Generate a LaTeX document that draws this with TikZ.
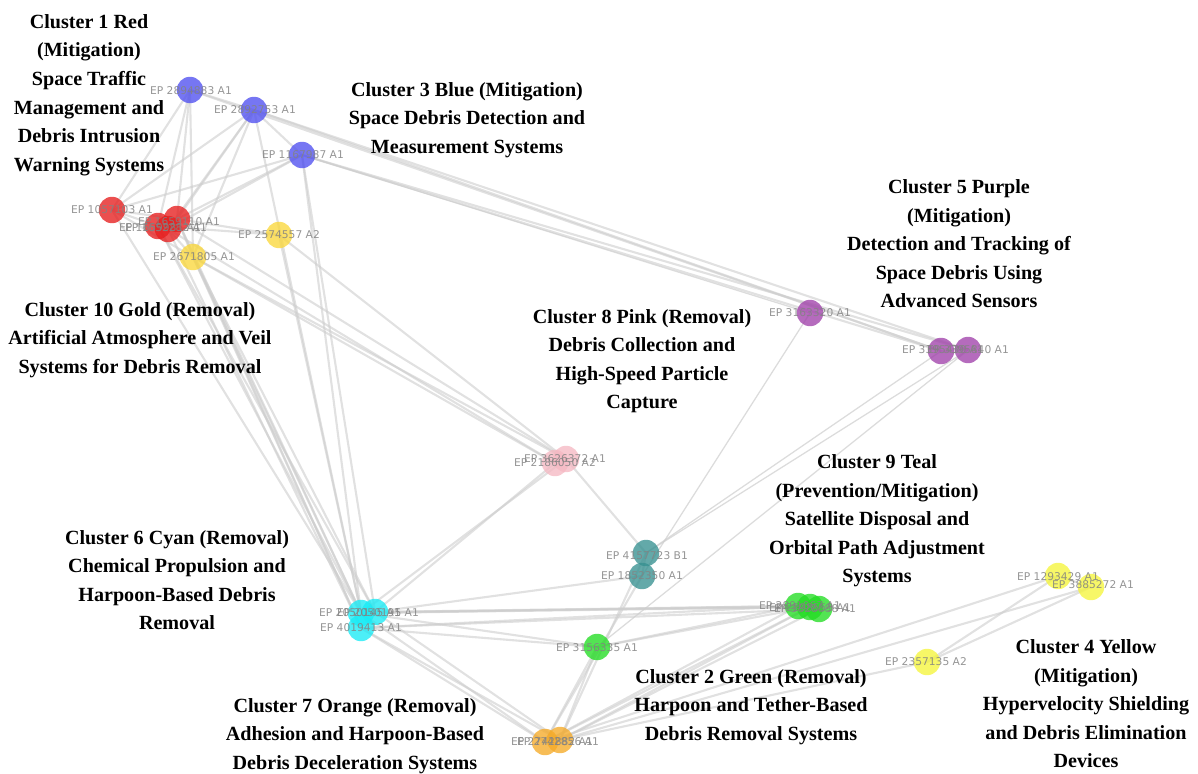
\documentclass[tikz,border=0pt]{standalone}
\usepackage{fontspec}
\setmainfont{Liberation Serif}
\newfontfamily\labfont{DejaVu Sans}
\usetikzlibrary{backgrounds}
\definecolor{edgeC}{RGB}{205,205,205}
\definecolor{labC}{RGB}{130,130,130}
\definecolor{blueN}{RGB}{80,80,240}
\definecolor{redN}{RGB}{230,30,30}
\definecolor{goldN}{RGB}{250,215,60}
\definecolor{purpleN}{RGB}{160,65,170}
\definecolor{pinkN}{RGB}{245,185,195}
\definecolor{tealN}{RGB}{55,145,145}
\definecolor{cyanN}{RGB}{25,235,245}
\definecolor{greenN}{RGB}{35,220,35}
\definecolor{yellowN}{RGB}{245,245,60}
\definecolor{orangeN}{RGB}{245,170,40}
\begin{document}
\begin{tikzpicture}[x=0.025cm,y=-0.025cm,
  edge/.style={draw=edgeC, line width=1.5pt, opacity=0.6},
  thinedge/.style={draw=edgeC, line width=0.9pt, opacity=0.7},
  pnode/.style={circle, minimum size=0.66cm, inner sep=0pt, fill opacity=0.78, draw=none},
  lab/.style={font=\labfont\fontsize{7.6}{8}\selectfont, text=labC, text opacity=0.85, inner sep=0pt},
  ctitle/.style={font=\bfseries\fontsize{14.3}{20.3}\selectfont, align=center, inner sep=0pt}]
\useasboundingbox (0,0) rectangle (1198,774);

% ---- patent nodes ----
\node[pnode, fill=blueN] (b1) at (190,90) {};
\node[pnode, fill=blueN] (b2) at (254,110) {};
\node[pnode, fill=blueN] (b3) at (302,155) {};
\node[pnode, fill=redN] (r1) at (112,210) {};
\node[pnode, fill=redN] (r2) at (177,219) {};
\node[pnode, fill=redN] (r3) at (158,226) {};
\node[pnode, fill=redN] (r4) at (168,229) {};
\node[pnode, fill=goldN] (y1) at (193,257) {};
\node[pnode, fill=goldN] (y2) at (279,235) {};
\node[pnode, fill=purpleN] (p1) at (810,313) {};
\node[pnode, fill=purpleN] (p2) at (941,351) {};
\node[pnode, fill=purpleN] (p3) at (968,350) {};
\node[pnode, fill=pinkN] (k1) at (566,459) {};
\node[pnode, fill=pinkN] (k2) at (555,463) {};
\node[pnode, fill=tealN] (t1) at (646,553) {};
\node[pnode, fill=tealN] (t2) at (642,576) {};
\node[pnode, fill=cyanN] (c1) at (361,613) {};
\node[pnode, fill=cyanN] (c2) at (375,612) {};
\node[pnode, fill=cyanN] (c3) at (361,628) {};
\node[pnode, fill=greenN] (g1) at (597,647) {};
\node[pnode, fill=greenN] (g2) at (798,606) {};
\node[pnode, fill=greenN] (g3) at (810,607) {};
\node[pnode, fill=greenN] (g4) at (819,609) {};
\node[pnode, fill=yellowN] (yy1) at (1058,576) {};
\node[pnode, fill=yellowN] (yy2) at (1091,587) {};
\node[pnode, fill=yellowN] (yy3) at (927,662) {};
\node[pnode, fill=orangeN] (o1) at (545,742) {};
\node[pnode, fill=orangeN] (o2) at (560,740) {};

% ---- connectors ----
\begin{pgfonlayer}{background}
\foreach \a/\b in {b1/r1,b1/r2,b1/r3,b1/y1,b1/b2,b2/r1,b2/r2,b2/r4,b2/y1,b2/b3,
  b3/r1,b3/r2,b3/r4,r1/r2,r1/r3,r2/y2,r3/y2,r2/y1,r1/y1,r4/y1,
  b2/p2,b2/p3,b1/p2,b3/p2,b3/p3,
  r1/c1,r2/c1,r3/c2,r4/c3,r3/c1,y1/c1,y1/c2,y1/c3,r2/c3,b2/c1,b3/c2,b3/c1,y2/c1,
  y1/k1,y1/k2,r2/k1,r4/k2,y2/k1,
  k1/c1,k2/c2,k1/t1,
  c1/g2,c2/g3,c3/g4,c1/g3,c3/g2,c2/g2,c2/t2,c3/g1,c1/g1,
  c1/o1,c2/o2,c3/o1,c3/o2,
  t1/t2,t2/o1,t1/o2,g1/o1,g1/o2,g1/g2,g1/g3,
  o1/g2,o2/g3,o2/g4,o1/g3,
  o1/yy1,o2/yy2,o2/yy3,yy1/yy2,yy3/yy1,yy3/yy2,p2/p3}
  {\draw[edge] (\a.center) -- (\b.center);}
\foreach \a/\b in {b3/p1,p1/t2,p2/t1,p3/t1,p3/g1}
  {\draw[thinedge] (\a.center) -- (\b.center);}
\end{pgfonlayer}

% ---- patent labels ----
\node[lab] (lb1) at (191,91) {EP 2894883 A1};
\node[lab] (lb2) at (255,110) {EP 2892753 A1};
\node[lab] (lb3) at (303,155) {EP 1167987 A1};
\node[lab] (lr1) at (112,210) {EP 1057103 A1};
\node[lab] (lr2) at (179,222) {EP 1659110 A1};
\node[lab] (lr3) at (160,228) {EP 1659981 A1};
\node[lab] (lr4) at (166,228) {EP 1652282 A1};
\node[lab] (ly1) at (194,257) {EP 2671805 A1};
\node[lab] (ly2) at (279,235) {EP 2574557 A2};
\node[lab] (lp1) at (810,313) {EP 3163320 A1};
\node[lab] (lp2) at (943,350) {EP 3395430 A1};
\node[lab] (lp3) at (968,350) {EP 3395840 A1};
\node[lab] (lk1) at (565,459) {EP 3626372 A1};
\node[lab] (lk2) at (555,463) {EP 2186050 A2};
\node[lab] (lt1) at (647,556) {EP 4157723 B1};
\node[lab] (lt2) at (642,576) {EP 1852350 A1};
\node[lab] (lc1) at (360,613) {EP 2050145 A1};
\node[lab] (lc2) at (378,613) {EP 2050195 A1};
\node[lab] (lc3) at (361,628) {EP 4019413 A1};
\node[lab] (lg1) at (597,648) {EP 3156335 A1};
\node[lab] (lg2) at (800,606) {EP 2891067 A1};
\node[lab] (lg3) at (810,608) {EP 2298553 A1};
\node[lab] (lg4) at (815,609) {EP 3828888 A1};
\node[lab] (lyy1) at (1058,577) {EP 1293429 A1};
\node[lab] (lyy2) at (1093,585) {EP 3885272 A1};
\node[lab] (lyy3) at (926,662) {EP 2357135 A2};
\node[lab] (lo1) at (552,742) {EP 2742882 A1};
\node[lab] (lo2) at (558,742) {EP 2742856 A1};

% ---- cluster titles ----
\node[ctitle] (tc1) at (89,95) {Cluster 1 Red\\(Mitigation)\\Space Traffic\\Management and\\Debris Intrusion\\Warning Systems};
\node[ctitle] (tc3) at (467,120) {Cluster 3 Blue (Mitigation)\\Space Debris Detection and\\Measurement Systems};
\node[ctitle] (tc5) at (959,244) {Cluster 5 Purple\\(Mitigation)\\Detection and Tracking of\\Space Debris Using\\Advanced Sensors};
\node[ctitle] (tc10) at (140,340) {Cluster 10 Gold (Removal)\\Artificial Atmosphere and Veil\\Systems for Debris Removal};
\node[ctitle] (tc8) at (642,361) {Cluster 8 Pink (Removal)\\Debris Collection and\\High-Speed Particle\\Capture};
\node[ctitle] (tc9) at (877,521) {Cluster 9 Teal\\(Prevention/Mitigation)\\Satellite Disposal and\\Orbital Path Adjustment\\Systems};
\node[ctitle] (tc6) at (177,580) {Cluster 6 Cyan (Removal)\\Chemical Propulsion and\\Harpoon-Based Debris\\Removal};
\node[ctitle] (tc7) at (355,736) {Cluster 7 Orange (Removal)\\Adhesion and Harpoon-Based\\Debris Deceleration Systems};
\node[ctitle] (tc2) at (751,707) {Cluster 2 Green (Removal)\\Harpoon and Tether-Based\\Debris Removal Systems};
\node[ctitle] (tc4) at (1086,704) {Cluster 4 Yellow\\(Mitigation)\\Hypervelocity Shielding\\and Debris Elimination\\Devices};
\end{tikzpicture}
\end{document}
